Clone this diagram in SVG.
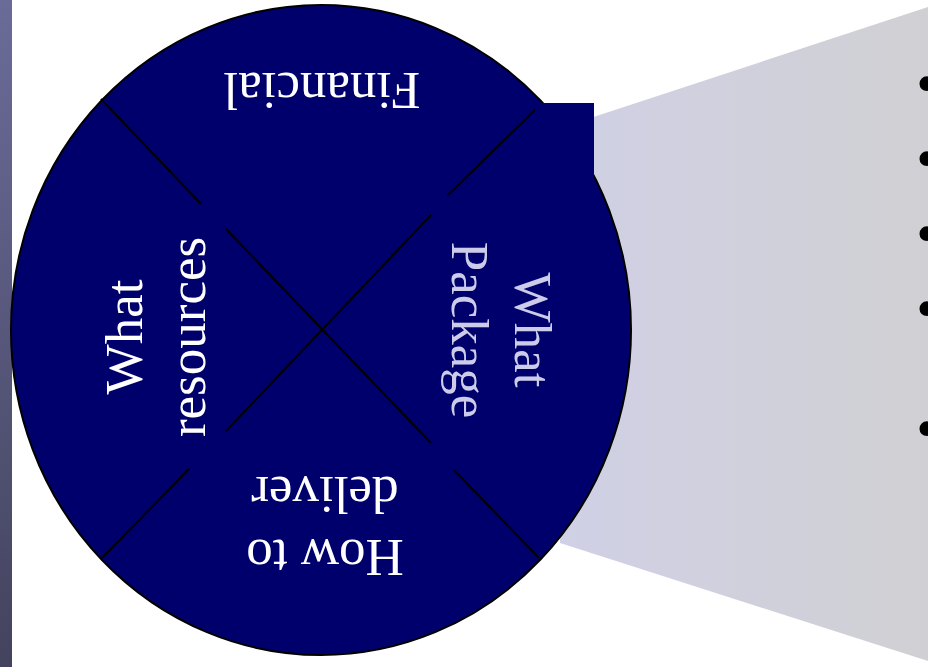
<svg xmlns="http://www.w3.org/2000/svg" width="928" height="667" viewBox="0 0 928 667">
<defs>
<linearGradient id="strip" x1="0" y1="0" x2="0" y2="1">
<stop offset="0" stop-color="#6b6b99"/>
<stop offset="1" stop-color="#43435e"/>
</linearGradient>
<linearGradient id="beam" gradientUnits="userSpaceOnUse" x1="560" y1="0" x2="928" y2="0">
<stop offset="0" stop-color="#d0d0e6"/>
<stop offset="1" stop-color="#d0d0d4"/>
</linearGradient>
<style>
.lbl{font-family:"Liberation Serif","Times New Roman",serif;font-size:53px;text-anchor:middle;fill:#ffffff}
.pkg{fill:#ccccea}
.div{stroke:#000;stroke-width:2;fill:none}
.bul{font-family:"Liberation Serif","Times New Roman",serif;font-size:62px;fill:#000}
</style>
</defs>
<rect width="928" height="667" fill="#ffffff"/>
<rect id="strip" x="0" y="0" width="12" height="667" fill="url(#strip)"/>
<g id="beam-shape">
<polygon points="560,128 928,7 928,661 560,543" fill="url(#beam)"/>
</g>
<g id="bullets">
<text class="bul" x="916" y="104">•</text>
<text class="bul" x="916" y="179">•</text>
<text class="bul" x="916" y="254">•</text>
<text class="bul" x="916" y="329">•</text>
<text class="bul" x="916" y="449">•</text>
</g>
<g id="wheel">
<ellipse cx="321" cy="330" rx="310" ry="325" fill="#00006c" stroke="#000" stroke-width="2"/>
</g>
<g id="dividers">
<line class="div" x1="101" y1="99" x2="201" y2="204"/>
<line class="div" x1="226" y1="229" x2="431" y2="443"/>
<line class="div" x1="431" y1="215" x2="226" y2="431"/>
<line class="div" x1="447" y1="196" x2="537" y2="108"/>
<line class="div" x1="454" y1="470" x2="539" y2="558"/>
<line class="div" x1="189" y1="469" x2="102" y2="558"/>
</g>
<g id="tab">
<rect x="535" y="103" width="59" height="76" fill="#00006c"/>
</g>
<g id="financial">
<text class="lbl" transform="translate(322,73) rotate(180)">Financial</text>
</g>
<g id="how-to-deliver">
<text class="lbl" transform="translate(325,540) rotate(180)"><tspan x="0" y="0">How to</tspan><tspan x="0" y="63">deliver</tspan></text>
</g>
<g id="what-resources">
<text class="lbl" transform="translate(142,337) rotate(-90)"><tspan x="0" y="0">What</tspan><tspan x="0" y="63">resources</tspan></text>
</g>
<g id="what-package">
<text class="lbl pkg" transform="translate(515,330) rotate(90)"><tspan x="0" y="0">What</tspan><tspan x="0" y="63">Package</tspan></text>
</g>
</svg>
